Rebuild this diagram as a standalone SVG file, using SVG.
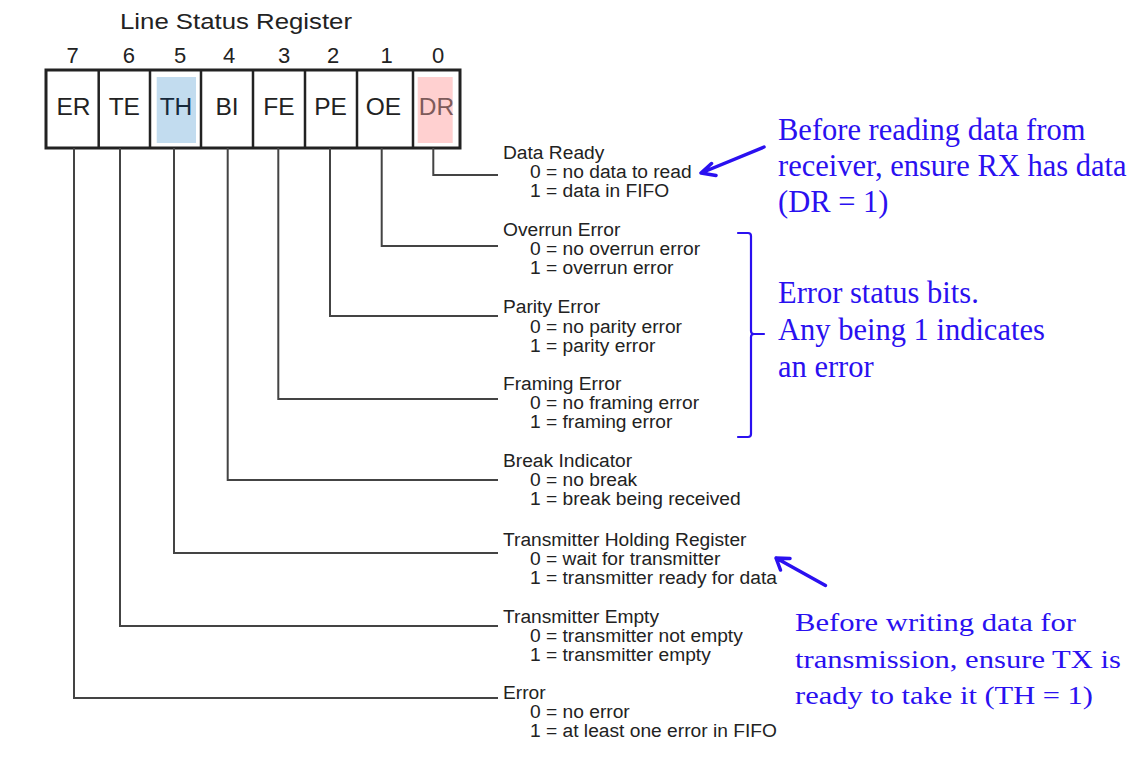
<svg xmlns="http://www.w3.org/2000/svg" width="1131" height="775" viewBox="0 0 1131 775">
<style>
.t{font-family:"Liberation Sans",Arial,sans-serif;fill:#222}
.title{font-size:22px}
.num{font-size:22px;text-anchor:middle}
.cell{font-size:24.5px;text-anchor:middle}
.lbl{font-size:19.2px}
.ann{font-family:"Liberation Serif","Times New Roman",serif;fill:#2a10f0;font-size:30.5px}
.ann2{font-family:"Liberation Serif","Times New Roman",serif;fill:#2a10f0;font-size:25.5px}
.conn{fill:none;stroke:#444;stroke-width:2}
.blue{fill:none;stroke:#2a10f0;stroke-linecap:round;stroke-linejoin:round}
</style>
<rect width="1131" height="775" fill="#fff"/>
<text class="t title" x="120" y="28.5" textLength="232" lengthAdjust="spacingAndGlyphs">Line Status Register</text>
<g id="bitnumbers">
<text class="t num" x="72.5" y="63">7</text>
<text class="t num" x="128.8" y="63">6</text>
<text class="t num" x="180" y="63">5</text>
<text class="t num" x="229" y="63">4</text>
<text class="t num" x="284" y="63">3</text>
<text class="t num" x="333" y="63">2</text>
<text class="t num" x="386.5" y="63">1</text>
<text class="t num" x="438" y="63">0</text>
</g>
<g id="register">
<rect x="156.7" y="77" width="39.3" height="66" fill="#c2dcef"/>
<rect x="417.7" y="77" width="35" height="66" fill="#ffd0d0"/>
<rect x="46" y="70" width="414" height="78" fill="none" stroke="#222" stroke-width="3"/>
<path d="M98.7 70V148M150 70V148M201 70V148M253 70V148M305 70V148M357 70V148M413 70V148" stroke="#222" stroke-width="2.5" fill="none"/>
<text class="t cell" x="73.5" y="115">ER</text>
<text class="t cell" x="124.3" y="115">TE</text>
<text class="t cell" x="176" y="115" style="fill:#16293b">TH</text>
<text class="t cell" x="227" y="115">BI</text>
<text class="t cell" x="279" y="115">FE</text>
<text class="t cell" x="330.5" y="115">PE</text>
<text class="t cell" x="383.5" y="115">OE</text>
<text class="t cell" x="436.5" y="115" style="fill:#7d5a5a">DR</text>
</g>
<g id="connectors">
<path class="conn" d="M433.3 148V175H498"/>
<path class="conn" d="M381.7 148V246H498"/>
<path class="conn" d="M330 148V316H498"/>
<path class="conn" d="M278.3 148V399H498"/>
<path class="conn" d="M227.7 148V480H498"/>
<path class="conn" d="M174 148V553H498"/>
<path class="conn" d="M120 148V626H498"/>
<path class="conn" d="M74 148V698H498"/>
</g>
<g id="dr-label" class="t lbl">
<text x="503" y="159.3">Data Ready</text>
<text x="530" y="178.3">0 = no data to read</text>
<text x="530" y="197.3">1 = data in FIFO</text>
</g>
<g id="oe-label" class="t lbl">
<text x="503" y="236">Overrun Error</text>
<text x="530" y="255">0 = no overrun error</text>
<text x="530" y="274">1 = overrun error</text>
</g>
<g id="pe-label" class="t lbl">
<text x="503" y="313">Parity Error</text>
<text x="530" y="332.5">0 = no parity error</text>
<text x="530" y="352">1 = parity error</text>
</g>
<g id="fe-label" class="t lbl">
<text x="503" y="390">Framing Error</text>
<text x="530" y="409">0 = no framing error</text>
<text x="530" y="428">1 = framing error</text>
</g>
<g id="bi-label" class="t lbl">
<text x="503" y="466.5">Break Indicator</text>
<text x="530" y="485.5">0 = no break</text>
<text x="530" y="504.5">1 = break being received</text>
</g>
<g id="th-label" class="t lbl">
<text x="503" y="546">Transmitter Holding Register</text>
<text x="530" y="565">0 = wait for transmitter</text>
<text x="530" y="584">1 = transmitter ready for data</text>
</g>
<g id="te-label" class="t lbl">
<text x="503" y="622.5">Transmitter Empty</text>
<text x="530" y="641.5">0 = transmitter not empty</text>
<text x="530" y="660.5">1 = transmitter empty</text>
</g>
<g id="er-label" class="t lbl">
<text x="503" y="699">Error</text>
<text x="530" y="718.3">0 = no error</text>
<text x="530" y="737.3">1 = at least one error in FIFO</text>
</g>
<g id="note-read">
<text class="ann" x="778" y="140">Before reading data from</text>
<text class="ann" x="778" y="176">receiver, ensure RX has data</text>
<text class="ann" x="778" y="212">(DR = 1)</text>
<path class="blue" stroke-width="3.5" d="M764 147L701 173M711.5 163.5L701 173L716 175.5"/>
</g>
<g id="note-error">
<path class="blue" stroke-width="2.2" d="M738 233H748Q751 233 751 236V331Q751 334 754 334H764M754 334Q751 334 751 337V434Q751 437 748 437H738"/>
<text class="ann" x="778" y="303.3">Error status bits.</text>
<text class="ann" x="778" y="340">Any being 1 indicates</text>
<text class="ann" x="778" y="376.7">an error</text>
</g>
<g id="note-write">
<path class="blue" stroke-width="3.5" d="M825.5 585.5L776 558M790 558.5L776 558L780.5 570"/>
<text class="ann2" x="795" y="631" textLength="281" lengthAdjust="spacingAndGlyphs">Before writing data for</text>
<text class="ann2" x="795" y="668" textLength="326" lengthAdjust="spacingAndGlyphs">transmission, ensure TX is</text>
<text class="ann2" x="795" y="703.5" textLength="298" lengthAdjust="spacingAndGlyphs">ready to take it (TH = 1)</text>
</g>
</svg>
